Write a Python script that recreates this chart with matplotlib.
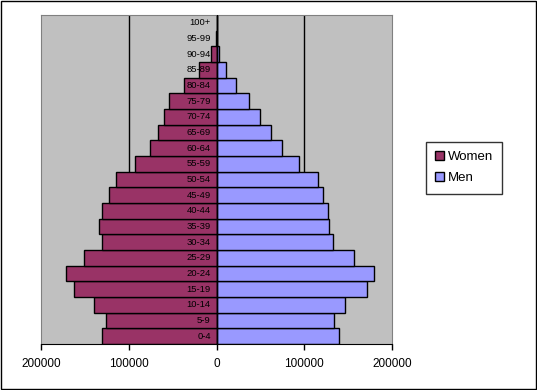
import matplotlib
matplotlib.use("Agg")
import matplotlib.pyplot as plt
from matplotlib.patches import Rectangle
from matplotlib.ticker import FuncFormatter

plt.rcParams["font.family"] = ["Liberation Sans", "DejaVu Sans"]

# ---- data ----
age_groups = ["0-4", "5-9", "10-14", "15-19", "20-24", "25-29", "30-34",
              "35-39", "40-44", "45-49", "50-54", "55-59", "60-64", "65-69",
              "70-74", "75-79", "80-84", "85-89", "90-94", "95-99", "100+"]
women = [130700, 126100, 139800, 162500, 171600, 151100, 130700,
         134100, 130700, 122700, 114800, 93200, 76100, 67000,
         60200, 54500, 37500, 20500, 6800, 1000, 0]
men = [139800, 134100, 146600, 171600, 179500, 156800, 133000,
       128400, 127300, 121600, 115900, 94300, 75000, 62500,
       50000, 37500, 22000, 10600, 2700, 300, 0]
x_ticks = [-200000, -100000, 0, 100000, 200000]

WOMEN_COL = "#993366"
MEN_COL = "#9999FF"

fig = plt.figure(figsize=(5.37, 3.90), dpi=100)
ax = fig.add_axes([0.0764, 0.118, 0.6536, 0.8435])
ax.set_facecolor("#C0C0C0")

ypos = list(range(len(age_groups)))

# gridlines behind the bars
for gx in (-100000, 100000):
    ax.axvline(gx, color="black", lw=1, zorder=1)

ax.barh(ypos, [-w for w in women], height=1.0, color=WOMEN_COL,
        edgecolor="black", linewidth=1, label="Women", zorder=2)
ax.barh(ypos, men, height=1.0, color=MEN_COL,
        edgecolor="black", linewidth=1, label="Men", zorder=2)
ax.axvline(0, color="black", lw=1, zorder=3)

for y, lab in zip(ypos, age_groups):
    ax.text(-6500, y, lab, ha="right", va="center", fontsize=6.8, zorder=4)

ax.set_xlim(-200000, 200000)
ax.set_ylim(-0.5, len(age_groups) - 0.5)
ax.set_xticks(x_ticks)
ax.xaxis.set_major_formatter(FuncFormatter(lambda v, p: f"{abs(int(v))}"))
ax.set_yticks([])
ax.tick_params(axis="x", direction="out", length=4, width=1,
               color="black", labelsize=8.5, pad=6)

for side in ("left", "right", "top"):
    ax.spines[side].set_color("#808080")
ax.spines["bottom"].set_color("black")

leg = ax.legend(loc="upper left", frameon=True, fontsize=9.5,
                handlelength=0.7, handleheight=0.7, handletextpad=0.3,
                labelspacing=0.7, borderpad=0.7, borderaxespad=0,
                fancybox=False)
leg.set_bbox_to_anchor((425.5 / 537, 1 - 141.5 / 390), transform=fig.transFigure)
leg.get_frame().set_edgecolor("black")
leg.get_frame().set_linewidth(1)
for h in leg.legend_handles:
    h.set_edgecolor("black")
    h.set_linewidth(1)

# black frame around the whole chart
fig.patches.append(Rectangle((0.001, 0.0015), 0.997, 0.996,
                             transform=fig.transFigure, fill=False,
                             edgecolor="black", linewidth=1))

fig.savefig("out.png", dpi=100)
